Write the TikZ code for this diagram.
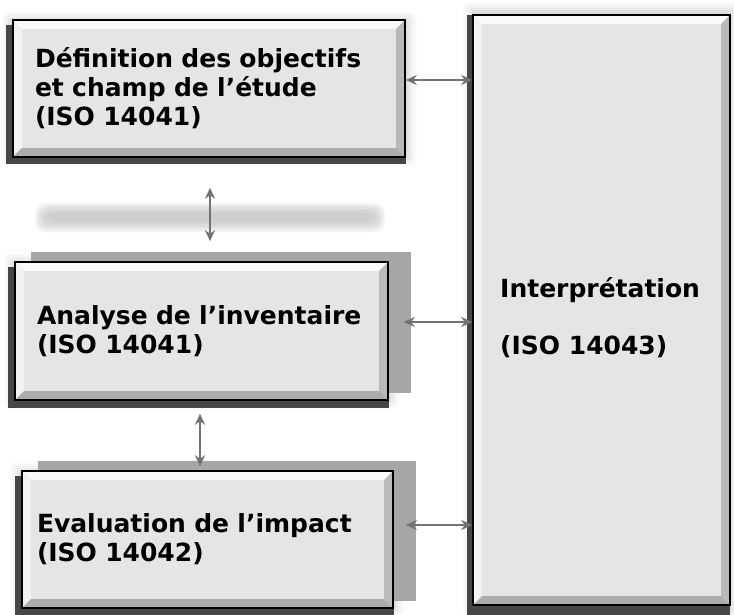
\documentclass[tikz,border=0pt]{standalone}
\usepackage{fontspec}
\setmainfont{DejaVu Sans}
\usetikzlibrary{arrows.meta,shadows,shadows.blur,calc}

\tikzset{
  etape/.style={draw=black, line width=1.6pt, fill=gray!20, align=left,
    font=\bfseries\fontsize{25}{29}\selectfont,
    blur shadow={shadow xshift=0pt, shadow yshift=0pt, shadow blur radius=8pt, shadow opacity=18, shadow scale=1.02},
    general shadow={fill=gray!55!black, shadow xshift=-3pt, shadow yshift=-6pt},
    path picture={
      \fill[gray!4] (path picture bounding box.north west) -- (path picture bounding box.north east)
        -- ([shift={(-9pt,-9pt)}]path picture bounding box.north east) -- ([shift={(9pt,-9pt)}]path picture bounding box.north west) -- cycle;
      \fill[gray!10] (path picture bounding box.north west) -- (path picture bounding box.south west)
        -- ([shift={(9pt,9pt)}]path picture bounding box.south west) -- ([shift={(9pt,-9pt)}]path picture bounding box.north west) -- cycle;
      \fill[gray!55] (path picture bounding box.north east) -- (path picture bounding box.south east)
        -- ([shift={(-9pt,9pt)}]path picture bounding box.south east) -- ([shift={(-9pt,-9pt)}]path picture bounding box.north east) -- cycle;
      \fill[gray!65] (path picture bounding box.south west) -- (path picture bounding box.south east)
        -- ([shift={(-9pt,9pt)}]path picture bounding box.south east) -- ([shift={(9pt,9pt)}]path picture bounding box.south west) -- cycle;
      \fill[gray!20] ([shift={(9pt,-9pt)}]path picture bounding box.north west) rectangle ([shift={(-9pt,9pt)}]path picture bounding box.south east);
    }},
  ombre droite/.style={general shadow={fill=gray!70, shadow xshift=19pt, shadow yshift=8pt}},
  texte/.style={align=left, inner sep=0pt, font=\bfseries\fontsize{25}{29}\selectfont},
  lien/.style={draw=gray!90!black, line width=1.8pt, {Stealth[length=11pt,width=10pt]}-{Stealth[length=11pt,width=10pt]}},
}

\begin{document}
\begin{tikzpicture}[x=1pt, y=-1pt]
\useasboundingbox (0,0) rectangle (734,615);

% bande floue
\foreach \i in {0,...,5}
  \fill[gray!60, opacity=0.15, rounded corners=10pt] (35+2*\i,203+2*\i) rectangle (385-2*\i,232-2*\i);

\node[etape, minimum height=137, text width=348, inner xsep=22pt] (def) at (209,88.5)
  {Définition des objectifs\\et champ de l’étude\\(ISO 14041)};
\node[etape, ombre droite, minimum height=138, text width=329, inner xsep=22pt] (ana) at (201.5,331)
  {Analyse de l’inventaire\\(ISO 14041)};
\node[etape, ombre droite, minimum height=137, text width=341, inner xsep=15pt] (eva) at (207.5,539.5)
  {Evaluation de l’impact\\(ISO 14042)};
\node[etape, minimum width=257, minimum height=590] (interp) at (601.5,310) {};
\node[texte, anchor=west] (interp-txt) at (500,318) {Interprétation\\[28pt](ISO 14043)};

\draw[lien] ([yshift=8.5pt]def.east) -- ([yshift=8.5pt]def.east -| interp.west);
\draw[lien] ([xshift=15pt,yshift=9pt]ana.east) -- ([yshift=9pt]ana.east -| interp.west);
\draw[lien] ([xshift=12pt,yshift=14.5pt]eva.east) -- ([yshift=14.5pt]eva.east -| interp.west);

\draw[lien] ($(def.south)+(1,30)$) -- ($(ana.north)+(8.5,-20)$);
\draw[lien] ($(ana.south)+(-1.5,13)$) -- ($(eva.north)+(-7.5,-4)$);
\end{tikzpicture}
\end{document}
